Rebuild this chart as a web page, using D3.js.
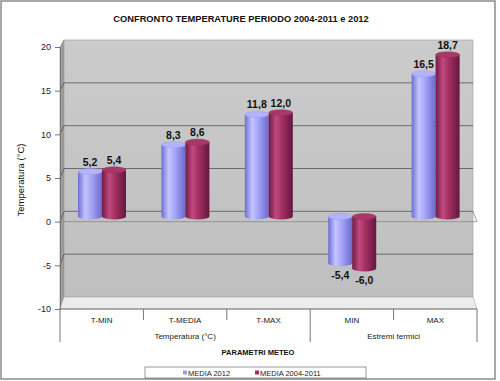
<!DOCTYPE html>
<html><head><meta charset="utf-8">
<script src="https://cdn.jsdelivr.net/npm/d3@7"></script>
<style>body{margin:0;background:#fff}svg{display:block;font-family:Arial,"Liberation Sans",sans-serif}</style>
</head><body><svg id="c" width="500" height="381"></svg>
<script>
const categories = ["T-MIN","T-MEDIA","T-MAX","MIN","MAX"];
const groups = [{label:"Temperatura (°C)", from:0, to:2},{label:"Estremi termici", from:3, to:4}];
const seriesNames = ["MEDIA 2012","MEDIA 2004-2011"];
const media2012 = [5.2, 8.3, 11.8, -5.4, 16.5];
const media0411 = [5.4, 8.6, 12.0, -6.0, 18.7];
const yTicks = [-10,-5,0,5,10,15,20];
const title = "CONFRONTO TEMPERATURE PERIODO 2004-2011 e 2012";
const yTitle = "Temperatura (°C)";
const xTitle = "PARAMETRI METEO";

const svg = d3.select("#c");
const defs = svg.append("defs");
function grad(id, stops){
  const g = defs.append("linearGradient").attr("id",id).attr("x1","0").attr("x2","1").attr("y1","0").attr("y2","0");
  stops.forEach(s=>g.append("stop").attr("offset",s[0]).attr("stop-color",s[1]));
}
grad("gBlue",[[0,"#6d6dd6"],[0.3,"#c4c4ff"],[0.55,"#a6a6fa"],[1,"#6a6acc"]]);
grad("gRed",[[0,"#6e1a45"],[0.3,"#c24a80"],[0.55,"#a3305f"],[1,"#651640"]]);
const wg = defs.append("linearGradient").attr("id","gWall").attr("x1","0").attr("x2","0").attr("y1","0").attr("y2","1");
wg.append("stop").attr("offset",0).attr("stop-color","#cbcbcb");
wg.append("stop").attr("offset",1).attr("stop-color","#bfbfbf");

// outer border
svg.append("rect").attr("x",1).attr("y",1).attr("width",494).attr("height",378)
  .attr("fill","#fff").attr("stroke","#8a8a8a").attr("stroke-width",1.5);

svg.append("text").attr("x",241).attr("y",22).attr("text-anchor","middle")
  .attr("font-size",9.3).attr("font-weight","bold").attr("fill","#111").text(title);

// scales
const x = d3.scaleBand().domain(categories).range([60,477]).paddingInner(0).paddingOuter(0);
const yFront = d3.scaleLinear().domain([-10,20]).range([309,47]);
const yBack = d3.scaleLinear().domain([-10,20]).range([297,40]);
const yMid = d3.scaleLinear().domain([-10,20]).range([303,43.5]);

// left side wall
svg.append("path").attr("d",`M60,${yFront(20)}L64,${yBack(20)}L64,${yBack(-10)}L60,${yFront(-10)}Z`)
  .attr("fill","#9d9d9d").attr("stroke","#888").attr("stroke-width",0.6);
// back wall
svg.append("rect").attr("x",64).attr("y",yBack(20)).attr("width",473-64).attr("height",yBack(-10)-yBack(20))
  .attr("fill","url(#gWall)").attr("stroke","#999").attr("stroke-width",0.6);
// floor
svg.append("path").attr("d",`M60,${yFront(-10)}L64,${yBack(-10)}L473,${yBack(-10)}L477,${yFront(-10)}Z`)
  .attr("fill","#ececec").attr("stroke","#aaa").attr("stroke-width",0.6);
// gridlines on back wall and left wall
yTicks.filter(t=>t>-10 && t<20).forEach(t=>{
  svg.append("line").attr("x1",64).attr("x2",473).attr("y1",yBack(t)).attr("y2",yBack(t))
    .attr("stroke","#555").attr("stroke-width",0.8);
  svg.append("line").attr("x1",60).attr("x2",64).attr("y1",yFront(t)).attr("y2",yBack(t))
    .attr("stroke","#555").attr("stroke-width",0.8);
});
// zero plane line (front)
svg.append("line").attr("x1",60).attr("x2",477).attr("y1",yFront(0)).attr("y2",yFront(0))
  .attr("stroke","#8a8a8a").attr("stroke-width",0.8);
svg.append("line").attr("x1",473).attr("x2",477).attr("y1",yBack(0)).attr("y2",yFront(0))
  .attr("stroke","#8a8a8a").attr("stroke-width",0.8);

// y axis
const yAxis = d3.axisLeft(yFront).tickValues(yTicks).tickSize(5).tickPadding(4).tickFormat(d=>String(d));
const ya = svg.append("g").attr("transform","translate(60,0)").call(yAxis);
ya.select(".domain").attr("stroke","#777");
ya.selectAll(".tick line").attr("stroke","#777");
ya.selectAll("text").attr("font-size",9).attr("fill","#222").attr("font-family","Arial, Liberation Sans, sans-serif");

svg.append("text").attr("transform","translate(24,180) rotate(-90)").attr("text-anchor","middle")
  .attr("font-size",9.5).attr("fill","#111").text(yTitle);

// category axis
const xa = svg.append("g");
xa.append("line").attr("x1",60).attr("x2",477).attr("y1",309).attr("y2",309).attr("stroke","#777");
categories.forEach((c,i)=>{
  const isGroupEdge = groups.some(g=>g.from===i);
  xa.append("line").attr("x1",x(c)).attr("x2",x(c)).attr("y1",309).attr("y2",isGroupEdge?342:320).attr("stroke","#777");
  xa.append("text").attr("x",x(c)+x.bandwidth()/2).attr("y",323).attr("text-anchor","middle")
    .attr("font-size",8).attr("fill","#222").text(c);
});
xa.append("line").attr("x1",477).attr("x2",477).attr("y1",309).attr("y2",342).attr("stroke","#777");
groups.forEach(g=>{
  const a = x(categories[g.from]), b = x(categories[g.to])+x.bandwidth();
  xa.append("text").attr("x",(a+b)/2).attr("y",339).attr("text-anchor","middle")
    .attr("font-size",8).attr("fill","#222").text(g.label);
});
svg.append("text").attr("x",258).attr("y",355).attr("text-anchor","middle")
  .attr("font-size",7.5).attr("font-weight","bold").attr("fill","#111").text(xTitle);

// bars (cylinders)
const series = [
  {name:seriesNames[0], values:media2012, fill:"url(#gBlue)", cap:"#b2b2ff", off:18},
  {name:seriesNames[1], values:media0411, fill:"url(#gRed)", cap:"#a8386a", off:42}
];
const bw = 24, ry = 3;
const fmt = v => v.toFixed(1).replace(".",",");
series.forEach(s=>{
  categories.forEach((c,i)=>{
    const v = s.values[i];
    const x0 = x(c)+s.off, cx = x0+bw/2;
    const yt = yMid(Math.max(v,0)), yb = yMid(Math.min(v,0));
    const g = svg.append("g");
    g.append("ellipse").attr("cx",cx).attr("cy",yb).attr("rx",bw/2).attr("ry",ry).attr("fill",s.fill);
    g.append("rect").attr("x",x0).attr("y",yt).attr("width",bw).attr("height",yb-yt).attr("fill",s.fill);
    g.append("ellipse").attr("cx",cx).attr("cy",yt).attr("rx",bw/2).attr("ry",ry).attr("fill",s.cap)
      .attr("stroke",d3.color(s.cap).darker(0.4)).attr("stroke-width",0.4);
    const ly = v>=0 ? yt-6 : yb+16;
    svg.append("text").attr("x",cx).attr("y",ly).attr("text-anchor","middle")
      .attr("font-size",10.5).attr("font-weight","bold").attr("fill","#111").text(fmt(v));
  });
});

// legend
const lg = svg.append("g");
lg.append("rect").attr("x",145).attr("y",367).attr("width",221).attr("height",11)
  .attr("fill","#fff").attr("stroke","#555").attr("stroke-width",0.6);
const lx = [183,255];
const lc = ["#9999ff","#993366"];
series.forEach((s,i)=>{
  lg.append("rect").attr("x",lx[i]).attr("y",370.5).attr("width",4).attr("height",4).attr("fill",lc[i]);
  lg.append("text").attr("x",lx[i]+5).attr("y",375.5).attr("font-size",7.5).attr("fill","#222").text(s.name);
});
</script></body></html>
